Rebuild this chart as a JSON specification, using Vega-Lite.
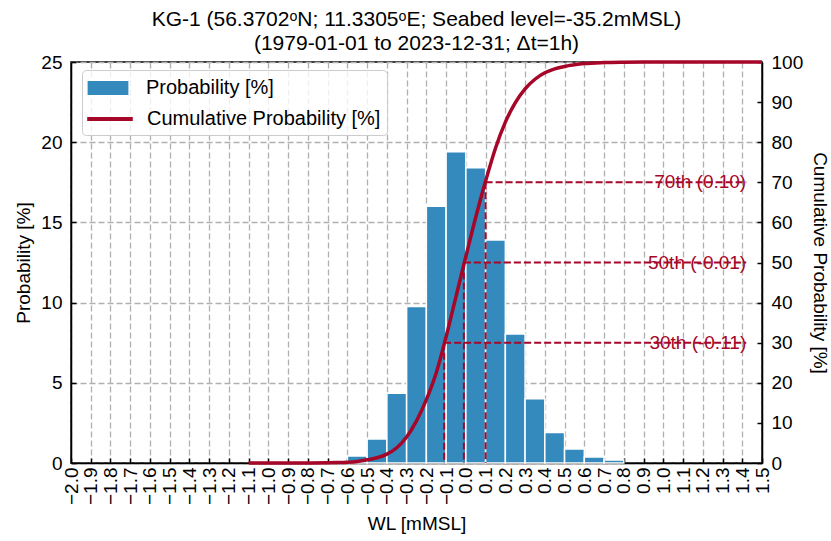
{
  "$schema": "https://vega.github.io/schema/vega-lite/v6.json",
  "autosize": "none",
  "width": 691,
  "height": 401,
  "padding": {"left": 71, "top": 62, "right": 69, "bottom": 78},
  "background": "white",
  "config": {
    "font": "Liberation Sans",
    "view": {"stroke": "black", "strokeWidth": 1.5},
    "axis": {
      "labelFont": "Liberation Sans",
      "titleFont": "Liberation Sans",
      "labelFontSize": 19,
      "titleFontSize": 19,
      "titleFontWeight": "normal",
      "labelColor": "black",
      "titleColor": "black",
      "domainColor": "black",
      "domainWidth": 1.5,
      "tickColor": "black",
      "tickWidth": 1.5,
      "tickSize": -5,
      "labelPadding": 14,
      "gridColor": "#b0b0b0",
      "gridDash": [6, 3],
      "gridWidth": 1.3
    },
    "axisX": {
      "labelAngle": -90,
      "labelAlign": "right",
      "labelBaseline": "middle",
      "labelOverlap": false,
      "labelFlush": false,
      "labelBound": false,
      "labelPadding": 9,
      "tickCount": 36,
      "grid": true,
      "titlePadding": 10
    }
  },
  "title": {
    "text": ["KG-1 (56.3702ᵒN; 11.3305ᵒE; Seabed level=-35.2mMSL)", "(1979-01-01 to 2023-12-31; Δt=1h)"],
    "font": "Liberation Sans",
    "fontSize": 21,
    "fontWeight": "normal",
    "color": "black",
    "lineHeight": 24,
    "offset": -1
  },
  "datasets": {
    "hist": [
      {"bin_start": -0.6, "bin_end": -0.5, "prob": 0.44},
      {"bin_start": -0.5, "bin_end": -0.4, "prob": 1.5},
      {"bin_start": -0.4, "bin_end": -0.3, "prob": 4.35},
      {"bin_start": -0.3, "bin_end": -0.2, "prob": 9.75},
      {"bin_start": -0.2, "bin_end": -0.1, "prob": 16.0},
      {"bin_start": -0.1, "bin_end": 0.0, "prob": 19.4},
      {"bin_start": 0.0, "bin_end": 0.1, "prob": 18.4},
      {"bin_start": 0.1, "bin_end": 0.2, "prob": 13.9},
      {"bin_start": 0.2, "bin_end": 0.3, "prob": 8.05},
      {"bin_start": 0.3, "bin_end": 0.4, "prob": 4.0},
      {"bin_start": 0.4, "bin_end": 0.5, "prob": 1.9},
      {"bin_start": 0.5, "bin_end": 0.6, "prob": 0.88},
      {"bin_start": 0.6, "bin_end": 0.7, "prob": 0.38},
      {"bin_start": 0.7, "bin_end": 0.8, "prob": 0.18}
    ],
    "cdf": [
      {"wl": -1.1, "cum": 0},
      {"wl": -1.0, "cum": 0},
      {"wl": -0.9, "cum": 0.01},
      {"wl": -0.8, "cum": 0.02},
      {"wl": -0.7, "cum": 0.05},
      {"wl": -0.65, "cum": 0.1},
      {"wl": -0.6, "cum": 0.2},
      {"wl": -0.55, "cum": 0.4},
      {"wl": -0.5, "cum": 0.8},
      {"wl": -0.45, "cum": 1.3},
      {"wl": -0.4, "cum": 2.2},
      {"wl": -0.35, "cum": 3.8},
      {"wl": -0.3, "cum": 6.5},
      {"wl": -0.25, "cum": 10.5},
      {"wl": -0.2, "cum": 15.8},
      {"wl": -0.15, "cum": 22.5},
      {"wl": -0.1, "cum": 31.5},
      {"wl": -0.05, "cum": 41.5},
      {"wl": 0.0, "cum": 51.5},
      {"wl": 0.05, "cum": 61.3},
      {"wl": 0.1, "cum": 70.3},
      {"wl": 0.15, "cum": 78.5},
      {"wl": 0.2, "cum": 85.0},
      {"wl": 0.25, "cum": 89.8},
      {"wl": 0.3, "cum": 93.3},
      {"wl": 0.35, "cum": 95.7},
      {"wl": 0.4, "cum": 97.3},
      {"wl": 0.45, "cum": 98.3},
      {"wl": 0.5, "cum": 98.9},
      {"wl": 0.55, "cum": 99.3},
      {"wl": 0.6, "cum": 99.6},
      {"wl": 0.7, "cum": 99.85},
      {"wl": 0.8, "cum": 99.95},
      {"wl": 0.9, "cum": 100},
      {"wl": 1.0, "cum": 100},
      {"wl": 1.5, "cum": 100}
    ],
    "pct": [
      {"p": 30, "val": -0.11, "label": "30th (-0.11)"},
      {"p": 50, "val": -0.01, "label": "50th (-0.01)"},
      {"p": 70, "val": 0.10, "label": "70th (0.10)"}
    ]
  },
  "resolve": {"scale": {"y": "independent"}},
  "layer": [
    {
      "data": {"name": "hist"},
      "mark": {"type": "bar", "stroke": "white", "strokeWidth": 1.5},
      "encoding": {
        "x": {
          "field": "bin_start", "type": "quantitative",
          "scale": {"domain": [-2.0, 1.5], "nice": false, "zero": false, "padding": 0},
          "axis": {
            "title": "WL  [mMSL]",
            "values": [-2.0, -1.9, -1.8, -1.7, -1.6, -1.5, -1.4, -1.3, -1.2, -1.1, -1.0, -0.9, -0.8, -0.7, -0.6, -0.5, -0.4, -0.3, -0.2, -0.1, 0.0, 0.1, 0.2, 0.3, 0.4, 0.5, 0.6, 0.7, 0.8, 0.9, 1.0, 1.1, 1.2, 1.3, 1.4, 1.5],
            "tickCount": 36,
            "labelExpr": "format(datum.value, '.1f')",
            "labelOverlap": false
          }
        },
        "x2": {"field": "bin_end"},
        "y": {
          "field": "prob", "type": "quantitative",
          "scale": {"domain": [0, 25], "nice": false},
          "axis": {
            "title": "Probability [%]",
            "orient": "left",
            "values": [0, 5, 10, 15, 20, 25],
            "tickCount": 6,
            "grid": true,
            "titlePadding": 7
          }
        },
        "y2": {"datum": 0},
        "fill": {
          "datum": "Probability [%]",
          "type": "nominal",
          "scale": {"domain": ["Probability [%]"], "range": ["#348ABD"]},
          "legend": {
            "title": null,
            "orient": "none",
            "legendX": 11,
            "legendY": 8,
            "zindex": 3,
            "labelFont": "Liberation Sans",
            "labelFontSize": 20,
            "labelColor": "black",
            "labelLimit": 400,
            "symbolType": "M-1.7,-0.58H1.7V0.58H-1.7Z",
            "symbolSize": 576,
            "symbolStrokeWidth": 0,
            "symbolOffset": 8,
            "labelOffset": 26,
            "padding": 6,
            "fillColor": "transparent",
            "strokeColor": "transparent"
          }
        }
      }
    },
    {
      "layer": [
        {
          "data": {"name": "cdf"},
          "mark": {"type": "line", "strokeWidth": 3.5, "interpolate": "monotone"},
          "encoding": {
            "x": {
              "field": "wl", "type": "quantitative",
              "axis": {
                "title": "WL  [mMSL]",
                "values": [-2.0, -1.9, -1.8, -1.7, -1.6, -1.5, -1.4, -1.3, -1.2, -1.1, -1.0, -0.9, -0.8, -0.7, -0.6, -0.5, -0.4, -0.3, -0.2, -0.1, 0.0, 0.1, 0.2, 0.3, 0.4, 0.5, 0.6, 0.7, 0.8, 0.9, 1.0, 1.1, 1.2, 1.3, 1.4, 1.5],
                "tickCount": 36,
                "labelExpr": "format(datum.value, '.1f')",
                "labelOverlap": false
              }
            },
            "y": {
              "field": "cum", "type": "quantitative",
              "scale": {"domain": [0, 100], "nice": false},
              "axis": {
                "title": "Cumulative Probability [%]",
                "orient": "right",
                "values": [0, 10, 20, 30, 40, 50, 60, 70, 80, 90, 100],
                "tickCount": 11,
                "grid": false,
                "titlePadding": 7
              }
            },
            "stroke": {
              "datum": "Cumulative Probability [%]",
              "type": "nominal",
              "scale": {"domain": ["Cumulative Probability [%]"], "range": ["#A60628"]},
              "legend": {
                "title": ".",
                "titleOrient": "top",
                "titleFontSize": 1,
                "titleColor": "transparent",
                "titlePadding": 28,
                "orient": "none",
                "legendX": 11,
                "legendY": 8,
                "zindex": 1,
                "labelFont": "Liberation Sans",
                "labelFontSize": 20,
                "labelColor": "black",
                "labelLimit": 400,
                "symbolType": "M-1.9,0H1.9",
                "symbolSize": 576,
                "symbolStrokeWidth": 4,
                "symbolOffset": 8,
                "labelOffset": 23,
                "padding": 6,
                "fillColor": "rgba(255,255,255,0.8)",
                "strokeColor": "#cccccc",
                "cornerRadius": 4
              }
            }
          }
        },
        {
          "data": {"name": "pct"},
          "mark": {"type": "rule", "color": "#A60628", "strokeWidth": 2, "strokeDash": [7, 3]},
          "encoding": {
            "x": {"field": "val", "type": "quantitative"},
            "y": {"field": "p", "type": "quantitative"},
            "y2": {"datum": 0}
          }
        },
        {
          "data": {"name": "pct"},
          "mark": {"type": "rule", "color": "#A60628", "strokeWidth": 2, "strokeDash": [7, 3]},
          "encoding": {
            "x": {"field": "val", "type": "quantitative"},
            "x2": {"datum": 1.42},
            "y": {"field": "p", "type": "quantitative"}
          }
        },
        {
          "data": {"name": "pct"},
          "mark": {"type": "text", "align": "right", "baseline": "middle", "font": "Liberation Sans", "fontSize": 19, "color": "#A60628"},
          "encoding": {
            "x": {"datum": 1.42},
            "y": {"field": "p", "type": "quantitative"},
            "text": {"field": "label", "type": "nominal"}
          }
        }
      ]
    }
  ]
}
